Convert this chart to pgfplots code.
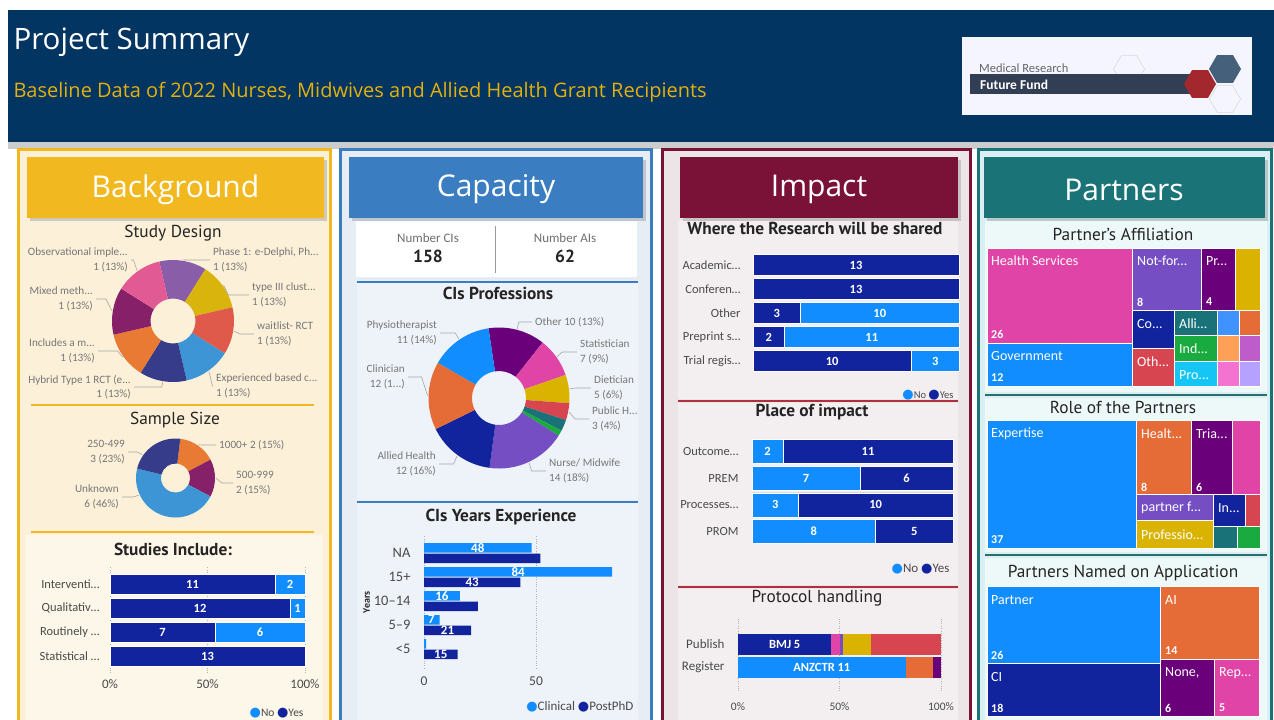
\documentclass[border=0pt]{standalone}
\usepackage{pgfplots}
\pgfplotsset{compat=1.18}
\usepackage{fontspec}
\setmainfont{Carlito}
\newfontfamily\hdfont{Open Sans}
\newfontfamily\ttlfont{PT Sans}
\newfontfamily\djvfont{DejaVu Sans}
\usetikzlibrary{shapes.geometric,shadows}

\definecolor{hnavy}{HTML}{023561}
\definecolor{gold}{HTML}{E3B00D}
\definecolor{bgY}{HTML}{F2B81F}
\definecolor{bgCream}{HTML}{FCF0D8}
\definecolor{bgCream2}{HTML}{FDF7E9}
\definecolor{capB}{HTML}{3A7DC1}
\definecolor{capFill}{HTML}{E6EDF5}
\definecolor{capFill2}{HTML}{EEF3F9}
\definecolor{impM}{HTML}{7A1136}
\definecolor{impLine}{HTML}{B0303F}
\definecolor{impFill}{HTML}{ECE5E8}
\definecolor{impFill2}{HTML}{F3EFF1}
\definecolor{parT}{HTML}{1A7376}
\definecolor{parLine}{HTML}{2A6F70}
\definecolor{parFill}{HTML}{D9EFF1}
\definecolor{parFill2}{HTML}{EDF8F9}
\definecolor{logoDark}{HTML}{323E53}
\definecolor{logoRed}{HTML}{A3282E}
\definecolor{logoBlue}{HTML}{44607A}
\definecolor{lbl}{HTML}{4A4A4A}
\definecolor{dlc}{HTML}{777777}
\definecolor{ttlc}{HTML}{252423}
% Power BI palette
\definecolor{pbBlue}{HTML}{118DFF}
\definecolor{pbNavy}{HTML}{12239E}
\definecolor{pbOrange}{HTML}{E66C37}
\definecolor{pbPurple}{HTML}{6B007B}
\definecolor{pbPink}{HTML}{E044A7}
\definecolor{pbViolet}{HTML}{744EC2}
\definecolor{pbYellow}{HTML}{D9B300}
\definecolor{pbRed}{HTML}{D64550}
\definecolor{pbTeal}{HTML}{197278}
\definecolor{pbGreen}{HTML}{1AAB40}
\definecolor{pbCyan}{HTML}{15C6F4}
\definecolor{pbBlueB}{HTML}{4092FF}
\definecolor{pbLOrange}{HTML}{FFA058}
\definecolor{pbLPurple}{HTML}{BE5DC9}
\definecolor{pbLPink}{HTML}{F472D0}
\definecolor{pbLav}{HTML}{B5A1FF}
% study design palette
\definecolor{sdPurple}{HTML}{8A5DA8}
\definecolor{sdYellow}{HTML}{D8B40C}
\definecolor{sdRed}{HTML}{E05A4B}
\definecolor{sdBlue}{HTML}{3D95D6}
\definecolor{sdNavy}{HTML}{363C8A}
\definecolor{sdOrange}{HTML}{E87A33}
\definecolor{sdMagenta}{HTML}{862068}
\definecolor{sdPink}{HTML}{E25A93}

\newcommand\fsz[1]{\fontsize{#1bp}{#1bp}\selectfont}
\newcommand\fszl[2]{\fontsize{#1bp}{#2bp}\selectfont}

\newcommand\donutstart[5]{\xdef\dcx{#1}\xdef\dcy{#2}\xdef\dRo{#3}\xdef\dRi{#4}\xdef\dtot{#5}}
\newcommand\donutangle[1]{\xdef\dacc{#1}}
\newcommand\dslice[2]{%
  \pgfmathsetmacro\aone{90-(\dacc)}%
  \pgfmathsetmacro\atwo{90-(\dacc)-360*#1/\dtot}%
  \edef\tmpcmd{\noexpand\fill[#2] ([shift={(axis cs:\dcx,\dcy)}]\aone:\dRo bp) arc[start angle=\aone, end angle=\atwo, radius=\dRo bp] -- ([shift={(axis cs:\dcx,\dcy)}]\atwo:\dRi bp) arc[start angle=\atwo, end angle=\aone, radius=\dRi bp] -- cycle;}%
  \tmpcmd
  \pgfmathsetmacro\dacc{\dacc+360*#1/\dtot}\xdef\dacc{\dacc}}

\newcommand\trect[5]{\addplot[fill=#1, draw=white, line width=1bp] coordinates {(#2,#3) (#4,#3) (#4,#5) (#2,#5)} -- cycle;}

\newcommand\leadline[6]{%
  \pgfmathsetmacro\lpx{#1+(#3+1)*sin(#4)}%
  \pgfmathsetmacro\lpy{#2-(#3+1)*cos(#4)}%
  \pgfmathsetmacro\lqx{#1+(#3+7)*sin(#4)}%
  \draw[lead] (\lpx,\lpy) -- (\lqx,#6) -- (#5,#6);}

\newcommand\lgdot[1]{{\color{#1}\djvfont\fsz{13}●}}

\pgfplotsset{pb/.style={scale only axis, anchor=north west, y dir=reverse,
  axis line style={draw=none}, major tick length=0pt, ytick={0,...,#1},
  ticklabel style={font=\fsz{12.5}, text=lbl}, yticklabel style={xshift=-4bp},
  clip=false, grid style={black!30, dotted, line width=0.9bp}}}

\begin{document}
\begin{tikzpicture}[x=1bp,y=-1bp,
  lead/.style={draw=black!35, line width=0.6bp},
  dll/.style={font=\fszl{11.2}{14.5}, text=dlc, align=left, anchor=west, inner sep=1bp},
  dlr/.style={font=\fszl{11.2}{14.5}, text=dlc, align=right, anchor=east, inner sep=1bp},
  bl/.style={text=white, font=\bfseries\fsz{12.5}, inner sep=0pt},
  tl/.style={text=white, font=\fsz{14}, anchor=west, inner sep=0pt},
  tn/.style={text=white, font=\bfseries\fsz{12}, anchor=west, inner sep=0pt},
  ttlr/.style={font=\ttlfont\fsz{17.3}, text=ttlc},
  ttlb/.style={font=\ttlfont\bfseries\fsz{17.3}, text=ttlc},
  hbox/.style={drop shadow={opacity=0.35, shadow xshift=3bp, shadow yshift=-3bp}}]
\useasboundingbox (0,0) rectangle (1274,720);
\clip (0,0) rectangle (1274,720);
\fill[white] (0,0) rectangle (1274,720);
% ---------- header
\fill[hnavy] (8,10) rectangle (1274,142);
\fill[black!20] (8,142) rectangle (1274,149);
\node[anchor=west, text=white, font=\hdfont\fsz{29.5}] at (10,42) {Project Summary};
\node[anchor=west, text=gold, font=\hdfont\fsz{20}] at (10,92) {Baseline Data of 2022 Nurses, Midwives and Allied Health Grant Recipients};
% logo
\fill[white!96!blue] (962,37) rectangle (1252,115);
\node[regular polygon, regular polygon sides=6, minimum size=31bp, inner sep=0pt, draw=black!15, line width=0.6bp] at (1129,69) {};
\node[regular polygon, regular polygon sides=6, minimum size=31bp, inner sep=0pt, draw=black!15, line width=0.6bp] at (1225,99) {};
\fill[logoDark] (970,74) rectangle (1198,94);
\node[anchor=west, text=black!60, font=\fsz{12.5}, inner sep=0pt] at (979,68) {Medical Research};
\node[anchor=west, text=white, font=\bfseries\fsz{13.5}, inner sep=0pt] at (980,84.5) {Future Fund};
\node[regular polygon, regular polygon sides=6, minimum size=32bp, inner sep=0pt, fill=logoRed] at (1200,84) {};
\node[regular polygon, regular polygon sides=6, minimum size=32bp, inner sep=0pt, fill=logoBlue] at (1225,69) {};
% ---------- columns
\draw[bgY, line width=3bp, fill=bgCream] (18.5,150) rectangle (330.5,730);
\draw[capB, line width=3bp, fill=capFill] (340.5,150) rectangle (651.5,730);
\draw[impM, line width=3bp, fill=impFill] (662.5,150) rectangle (970.5,730);
\draw[parT, line width=3bp, fill=parFill] (978.5,150) rectangle (1271.5,730);
% header boxes
\fill[bgY, hbox] (27,157) rectangle (324,218);
\fill[capB, hbox] (349,157) rectangle (643,218);
\fill[impM, hbox] (680,157) rectangle (958,218);
\fill[parT, hbox] (984,157) rectangle (1265,218);
\node[text=white, font=\hdfont\fsz{30}] at (175.5,189.5) {Background};
\node[text=white, font=\hdfont\fsz{30}] at (496,189.5) {Capacity};
\node[text=white, font=\hdfont\fsz{30}] at (819,189.5) {Impact};
\node[text=white, font=\hdfont\fsz{30}] at (1124,189.5) {Partners};
% background sections
\fill[bgCream2] (26,535) rectangle (323,725);
\draw[bgY, line width=2.5bp] (31,405) -- (314,405);
\draw[bgY, line width=2.5bp] (31,532) -- (314,532);
% capacity sections
\fill[white] (356,221) rectangle (637,277);
\draw[black!40, line width=0.8bp] (495,226) -- (495,273);
\fill[capFill2] (357,283) rectangle (638,500);
\fill[capFill2] (357,503) rectangle (638,725);
\draw[capB, line width=2bp] (357,282) -- (638,282);
\draw[capB, line width=2bp] (357,502) -- (638,502);
\node[text=lbl!80, font=\fsz{13}] at (428,238) {Number CIs};
\node[text=ttlc, font=\ttlfont\bfseries\fsz{17.5}] at (428,256) {158};
\node[text=lbl!80, font=\fsz{13}] at (565,238) {Number AIs};
\node[text=ttlc, font=\ttlfont\bfseries\fsz{17.5}] at (565,256) {62};
% impact sections
\fill[impFill2] (678,221) rectangle (958,399);
\fill[impFill2] (678,403) rectangle (958,585);
\fill[impFill2] (678,589) rectangle (958,725);
\draw[impLine, line width=2.5bp] (678,401) -- (958,401);
\draw[impLine, line width=2.5bp] (678,587) -- (958,587);
% partners sections
\fill[parFill2] (985,221) rectangle (1267,392);
\fill[parFill2] (985,398) rectangle (1267,552);
\fill[parFill2] (985,558) rectangle (1267,725);
\draw[parLine, line width=2.5bp] (985,395) -- (1267,395);
\draw[parLine, line width=2.5bp] (985,555) -- (1267,555);
% titles
\node[ttlr] at (173,233) {Study Design};
\node[ttlr] at (175,420) {Sample Size};
\node[ttlb] at (173,549) {Studies Include:};
\node[ttlb] at (498,293) {CIs Professions};
\node[ttlb] at (501,517) {CIs Years Experience};
\node[ttlb] at (815,228) {Where the Research will be shared};
\node[ttlb] at (812,412) {Place of impact};
\node[ttlr] at (817,598) {Protocol handling};
\node[ttlr] at (1123,234) {Partner’s Affiliation};
\node[ttlr] at (1123,407) {Role of the Partners};
\node[ttlr] at (1123,573) {Partners Named on Application};

% ---------- canvas axis: donuts and treemaps
\begin{axis}[at={(0bp,0bp)}, anchor=north west, width=1274bp, height=720bp, scale only axis,
  xmin=0, xmax=1274, ymin=0, ymax=720, y dir=reverse, hide axis, clip=false]
% Study Design
\donutstart{173}{321}{61}{22.5}{8}\donutangle{-13}
\dslice{1}{sdPurple}\dslice{1}{sdYellow}\dslice{1}{sdRed}\dslice{1}{sdBlue}
\dslice{1}{sdNavy}\dslice{1}{sdOrange}\dslice{1}{sdMagenta}\dslice{1}{sdPink}
% Sample Size
\donutstart{175.5}{478}{39.5}{14.5}{13}\donutangle{7}
\dslice{2}{sdOrange}\dslice{2}{sdMagenta}\dslice{6}{sdBlue}\dslice{3}{sdNavy}
% CIs Professions
\donutstart{499}{398}{70.5}{27}{77}\donutangle{-8.6}
\dslice{10}{pbPurple}\dslice{7}{pbPink}\dslice{5}{pbYellow}\dslice{3}{pbRed}\dslice{2}{pbTeal}
\dslice{1}{pbGreen}\dslice{14}{pbViolet}\dslice{12}{pbNavy}\dslice{12}{pbOrange}\dslice{11}{pbBlue}
% Partner's Affiliation treemap
\trect{pbPink}{987}{248}{1132}{343}
\trect{pbBlue}{987}{343}{1132}{386}
\trect{pbViolet}{1132}{248}{1201}{310}
\trect{pbPurple}{1201}{248}{1235}{310}
\trect{pbYellow}{1235}{248}{1260}{310}
\trect{pbNavy}{1132}{310}{1174}{348}
\trect{pbRed}{1132}{348}{1174}{386}
\trect{pbTeal}{1174}{310}{1217}{335}
\trect{pbGreen}{1174}{335}{1217}{361}
\trect{pbCyan}{1174}{361}{1217}{386}
\trect{pbBlueB}{1217}{310}{1239}{335}
\trect{pbOrange}{1239}{310}{1260}{335}
\trect{pbLOrange}{1217}{335}{1239}{361}
\trect{pbLPurple}{1239}{335}{1260}{361}
\trect{pbLPink}{1217}{361}{1239}{386}
\trect{pbLav}{1239}{361}{1260}{386}
% Role of the Partners treemap
\trect{pbBlue}{987}{420}{1136}{548}
\trect{pbOrange}{1136}{420}{1191}{494}
\trect{pbPurple}{1191}{420}{1232}{494}
\trect{pbPink}{1232}{420}{1260}{494}
\trect{pbViolet}{1136}{494}{1213}{520}
\trect{pbYellow}{1136}{520}{1213}{548}
\trect{pbNavy}{1213}{494}{1245}{526}
\trect{pbRed}{1245}{494}{1260}{526}
\trect{pbTeal}{1213}{526}{1237}{548}
\trect{pbGreen}{1237}{526}{1260}{548}
% Partners Named on Application treemap
\trect{pbBlue}{987}{586}{1160}{663}
\trect{pbNavy}{987}{663}{1160}{716}
\trect{pbOrange}{1160}{586}{1259}{659}
\trect{pbPurple}{1160}{659}{1214}{716}
\trect{pbPink}{1214}{659}{1259}{716}
\end{axis}

% ---------- donut labels
\leadline{173}{321}{61}{324.5}{131}{260}
\leadline{173}{321}{61}{9.5}{210}{260}
\leadline{173}{321}{61}{54.5}{249}{295}
\leadline{173}{321}{61}{99.5}{254}{334}
\leadline{173}{321}{61}{144.5}{213}{386}
\leadline{173}{321}{61}{189.5}{134}{387}
\leadline{173}{321}{61}{234.5}{98}{351}
\leadline{173}{321}{61}{279.5}{96}{299}
\node[dlr] at (129,260) {Observational imple...\\1 (13\%)};
\node[dll] at (212,260) {Phase 1: e-Delphi, Ph...\\1 (13\%)};
\node[dll] at (251,295) {type III clust...\\1 (13\%)};
\node[dll] at (256,334) {waitlist- RCT\\1 (13\%)};
\node[dll] at (215,386) {Experienced based c...\\1 (13\%)};
\node[dlr] at (132,387) {Hybrid Type 1 RCT (e...\\1 (13\%)};
\node[dlr] at (96,351) {Includes a m...\\1 (13\%)};
\node[dlr] at (94,299) {Mixed meth...\\1 (13\%)};
\leadline{175.5}{478}{39.5}{305}{128}{452}
\leadline{175.5}{478}{39.5}{34.7}{216}{445}
\leadline{175.5}{478}{39.5}{90.1}{233}{483}
\leadline{175.5}{478}{39.5}{245}{122}{497}
\node[dlr] at (126,452) {250-499\\3 (23\%)};
\node[dll] at (218,445) {1000+ 2 (15\%)};
\node[dll] at (235,483) {500-999\\2 (15\%)};
\node[dlr] at (120,497) {Unknown\\6 (46\%)};
\leadline{499}{398}{70.5}{14.8}{532}{322}
\leadline{499}{398}{70.5}{54.6}{577}{352}
\leadline{499}{398}{70.5}{82.6}{591}{388}
\leadline{499}{398}{70.5}{101.3}{589}{419}
\leadline{499}{398}{70.5}{155.1}{546}{471}
\leadline{499}{398}{70.5}{215.9}{439}{464}
\leadline{499}{398}{70.5}{272}{408}{377}
\leadline{499}{398}{70.5}{325.7}{440}{333}
\node[dll] at (534,322) {Other 10 (13\%)};
\node[dll] at (579,352) {Statistician\\7 (9\%)};
\node[dll] at (593,388) {Dietician\\5 (6\%)};
\node[dll] at (591,419) {Public H...\\3 (4\%)};
\node[dll] at (548,471) {Nurse/ Midwife\\14 (18\%)};
\node[dlr] at (437,464) {Allied Health\\12 (16\%)};
\node[dlr] at (406,377) {Clinician\\12 (1...)};
\node[dlr] at (438,333) {Physiotherapist\\11 (14\%)};

% ---------- treemap labels
\node[tl] at (991,261) {Health Services};
\node[tn] at (991,334) {26};
\node[tl] at (991,356) {Government};
\node[tn] at (991,378) {12};
\node[tl] at (1137,261) {Not-for...};
\node[tn] at (1137,302) {8};
\node[tl] at (1206,261) {Pr...};
\node[tn] at (1206,302) {4};
\node[tl] at (1137,324) {Co...};
\node[tl] at (1179,324) {Alli...};
\node[tl] at (1179,349) {Ind...};
\node[tl] at (1137,362) {Oth...};
\node[tl] at (1179,375) {Pro...};
\node[tl] at (991,434) {Expertise};
\node[tn] at (991,540) {37};
\node[tl] at (1141,434) {Healt...};
\node[tn] at (1141,487) {8};
\node[tl] at (1196,434) {Tria...};
\node[tn] at (1196,487) {6};
\node[tl] at (1141,508) {partner f...};
\node[tl] at (1141,535) {Professio...};
\node[tl] at (1218,508) {In...};
\node[tl] at (991,600) {Partner};
\node[tn] at (991,655) {26};
\node[tl] at (991,677) {CI};
\node[tn] at (991,708) {18};
\node[tl] at (1165,600) {AI};
\node[tn] at (1165,651) {14};
\node[tl] at (1165,673) {None,};
\node[tn] at (1165,708) {6};
\node[tl] at (1219,673) {Rep...};
\node[tn] at (1219,708) {5};

% ---------- Studies Include
\begin{axis}[pb=3, at={(110bp,-567.2bp)}, width=195bp, height=105.6bp, xbar stacked, bar width=19.5bp,
  xmin=0, xmax=13, ymin=-0.7, ymax=3.7, xtick={0,6.5,13}, xticklabels={0\%,50\%,100\%},
  xticklabel style={yshift=-3.5bp, font=\fsz{13}}, yticklabels={Interventi…,Qualitativ…,Routinely …,Statistical …},
  yticklabel style={xshift=-3bp}, xmajorgrids]
\addplot[fill=pbNavy, draw=white, line width=0.5bp] coordinates {(11,0) (12,1) (7,2) (13,3)};
\addplot[fill=pbBlue, draw=white, line width=0.5bp] coordinates {(2,0) (1,1) (6,2) (0,3)};
\end{axis}
\node[bl] at (192.5,584) {11};
\node[bl] at (290,584) {2};
\node[bl] at (200,608) {12};
\node[bl] at (297.5,608) {1};
\node[bl] at (162.5,632) {7};
\node[bl] at (260,632) {6};
\node[bl] at (207.5,656) {13};
\node[anchor=east, font=\fsz{11.5}, text=lbl] at (307,713) {\lgdot{pbBlue}No \lgdot{pbNavy}Yes};

% ---------- CIs Years Experience
\begin{axis}[pb=4, at={(424bp,-536.2bp)}, width=212.8bp, height=132bp, xbar=1bp, bar width=9.5bp,
  xmin=0, xmax=95, ymin=-0.7, ymax=4.8, xtick={0,50}, xticklabels={0,50},
  xticklabel style={yshift=-5bp, font=\fsz{13.5}}, yticklabels={NA,15+,10–14,5–9,<5},
  ticklabel style={font=\fsz{14.5}}, yticklabel style={xshift=-6bp}, xmajorgrids,
  ylabel={Years}, ylabel style={font=\bfseries\fsz{10}, text=ttlc, at={(axis description cs:-0.27,0.5)}, anchor=center}]
\addplot[fill=pbNavy, draw=none] coordinates {(52,0) (43,1) (24,2) (21,3) (15,4)};
\addplot[fill=pbBlue, draw=none] coordinates {(48,0) (84,1) (16,2) (7,3) (1,4)};
\node[bl, font=\bfseries\fsz{13}] at (axis cs:24,-0.22) {48};
\node[bl, font=\bfseries\fsz{13}] at (axis cs:42,0.78) {84};
\node[bl, font=\bfseries\fsz{13}] at (axis cs:21.5,1.22) {43};
\node[bl, font=\bfseries\fsz{13}] at (axis cs:8,1.78) {16};
\node[bl, font=\bfseries\fsz{13}] at (axis cs:3.3,2.78) {7};
\node[bl, font=\bfseries\fsz{13}] at (axis cs:10.5,3.22) {21};
\node[bl, font=\bfseries\fsz{13}] at (axis cs:7.5,4.22) {15};
\end{axis}
\node[anchor=east, font=\fsz{13}, text=lbl] at (637,707) {\lgdot{pbBlue}Clinical \lgdot{pbNavy}PostPhD};

% ---------- Where the Research will be shared
\begin{axis}[pb=4, at={(753bp,-253bp)}, width=206bp, height=120bp, xbar stacked, bar width=21bp,
  xmin=0, xmax=13, ymin=-0.5, ymax=4.5, xtick=\empty,
  yticklabels={Academic…,Conferen…,Other,Preprint s…,Trial regis…}, yticklabel style={xshift=-5bp}]
\addplot[fill=pbNavy, draw=white, line width=0.5bp] coordinates {(13,0) (13,1) (3,2) (2,3) (10,4)};
\addplot[fill=pbBlue, draw=white, line width=0.5bp] coordinates {(0,0) (0,1) (10,2) (11,3) (3,4)};
\end{axis}
\node[bl] at (856,265) {13};
\node[bl] at (856,289) {13};
\node[bl] at (776.8,313) {3};
\node[bl] at (879.8,313) {10};
\node[bl] at (768.8,337) {2};
\node[bl] at (871.8,337) {11};
\node[bl] at (832.2,361) {10};
\node[bl] at (935.2,361) {3};
\node[anchor=east, font=\fsz{10.5}, text=lbl] at (957,395) {\lgdot{pbBlue}No \lgdot{pbNavy}Yes};

% ---------- Place of impact
\begin{axis}[pb=3, at={(752bp,-438bp)}, width=201bp, height=107bp, xbar stacked, bar width=24bp,
  xmin=0, xmax=13, ymin=-0.5, ymax=3.5, xtick=\empty,
  yticklabels={Outcome…,PREM,Processes…,PROM}, yticklabel style={xshift=-6bp}]
\addplot[fill=pbBlue, draw=white, line width=0.5bp] coordinates {(2,0) (7,1) (3,2) (8,3)};
\addplot[fill=pbNavy, draw=white, line width=0.5bp] coordinates {(11,0) (6,1) (10,2) (5,3)};
\end{axis}
\node[bl] at (767.5,451.4) {2};
\node[bl] at (868,451.4) {11};
\node[bl] at (806.1,478.1) {7};
\node[bl] at (906.6,478.1) {6};
\node[bl] at (775.2,504.9) {3};
\node[bl] at (875.7,504.9) {10};
\node[bl] at (813.8,531.6) {8};
\node[bl] at (914.3,531.6) {5};
\node[anchor=east, font=\fsz{13}, text=lbl] at (953,569) {\lgdot{pbBlue}No \lgdot{pbNavy}Yes};

% ---------- Protocol handling
\begin{axis}[pb=1, at={(738bp,-618.7bp)}, width=203bp, height=73.6bp, xbar stacked, bar width=21bp,
  xmin=0, xmax=100, ymin=-1.1, ymax=2.1, xtick={0,50,100}, xticklabels={0\%,50\%,100\%},
  xticklabel style={yshift=-7bp, font=\fsz{11.5}}, yticklabels={Publish,Register}, ticklabel style={font=\fsz{13}},
  yticklabel style={xshift=-6bp}, xmajorgrids]
\addplot[fill=pbNavy, draw=none] coordinates {(45.9,0) (0,1)};
\addplot[fill=pbPink, draw=none] coordinates {(4.4,0) (0,1)};
\addplot[fill=pbViolet, draw=none] coordinates {(1.3,0) (0,1)};
\addplot[fill=pbYellow, draw=none] coordinates {(13.8,0) (0,1)};
\addplot[fill=pbRed, draw=none] coordinates {(34.6,0) (0,1)};
\addplot[fill=pbBlue, draw=none] coordinates {(0,0) (82.6,1)};
\addplot[fill=pbOrange, draw=none] coordinates {(0,0) (13.6,1)};
\addplot[fill=pbPurple, draw=none] coordinates {(0,0) (3.8,1)};
\end{axis}
\node[bl] at (784.7,644) {BMJ 5};
\node[bl] at (821.8,667) {ANZCTR 11};
\end{tikzpicture}
\end{document}
